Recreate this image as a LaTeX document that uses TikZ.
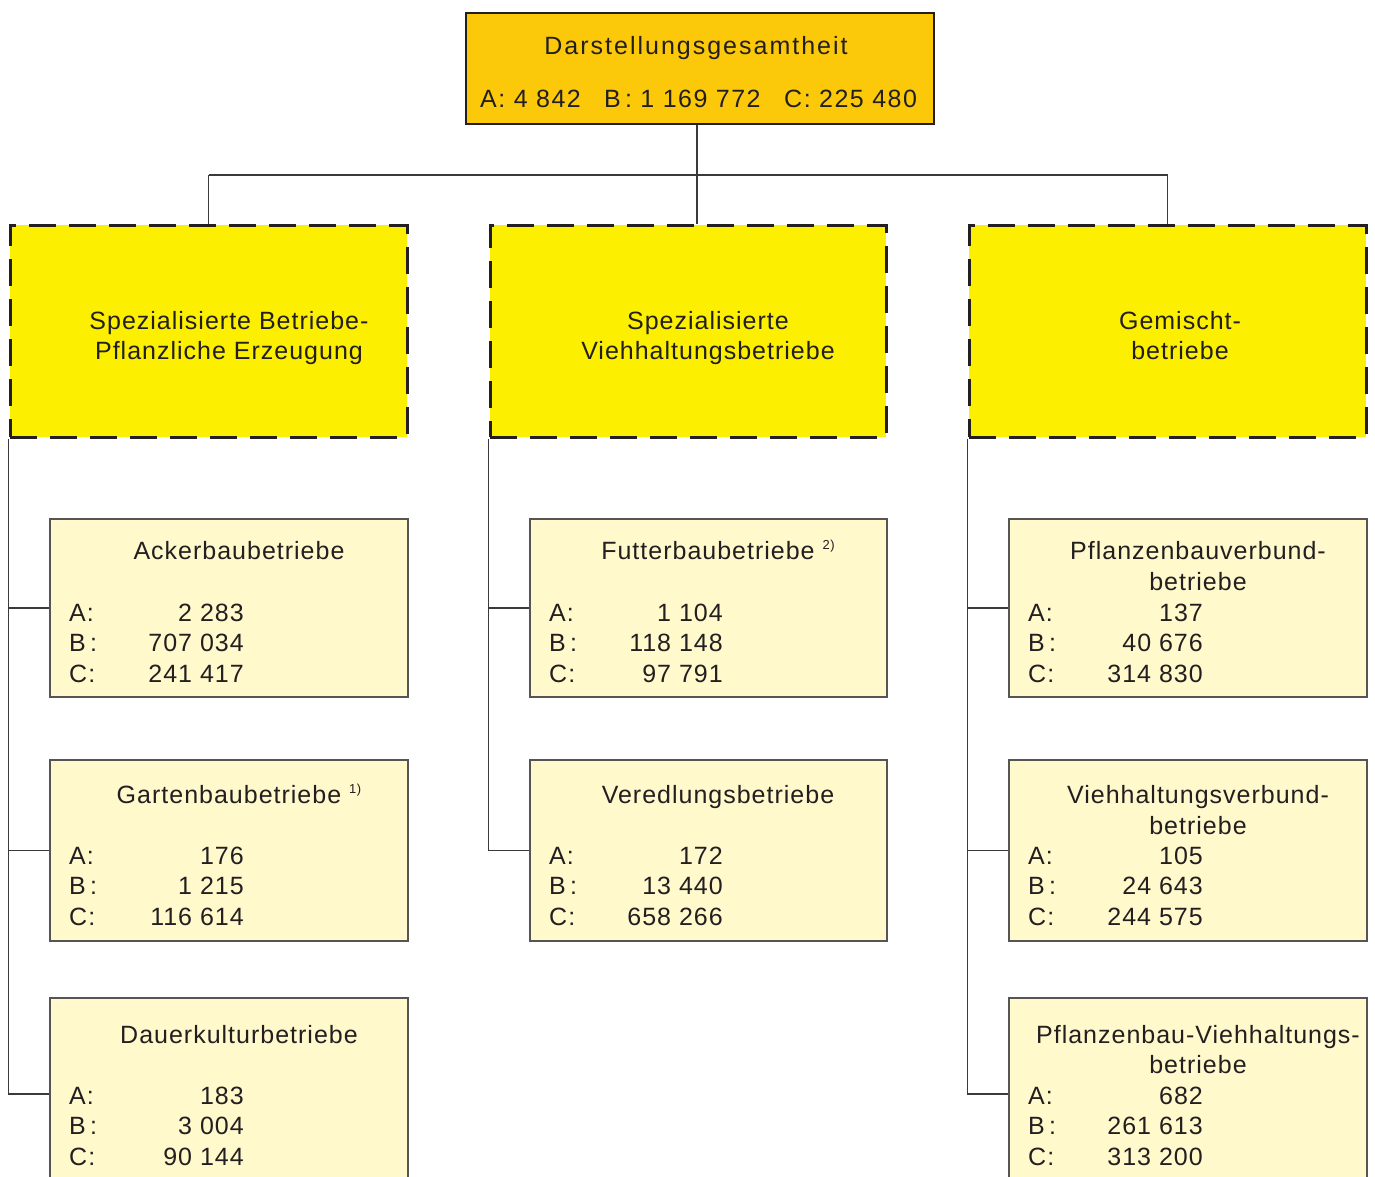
\documentclass[tikz,border=0pt]{standalone}
\usepackage{fontspec}
\setmainfont{Liberation Sans}[LetterSpace=4]
\definecolor{topfill}{HTML}{FCC80A}
\definecolor{midfill}{HTML}{FDEF00}
\definecolor{lowfill}{HTML}{FFF9CC}
\definecolor{ink}{HTML}{231F20}
\definecolor{wire}{HTML}{3A3A3A}
\definecolor{lowedge}{HTML}{555555}
\tikzset{
  topbox/.style={draw=ink, line width=2.5pt, fill=topfill, rectangle, inner sep=0pt},
  groupbox/.style={draw=ink, line width=3pt, fill=midfill, rectangle, inner sep=0pt,
     dash pattern=on 27pt off 13pt, minimum width=397pt, minimum height=212pt},
  leafbox/.style={draw=lowedge, line width=1.4pt, fill=lowfill, rectangle, inner sep=0pt, minimum width=358pt},
  txt/.style={inner sep=0pt, anchor=base, text=ink},
  lab/.style={inner sep=0pt, anchor=base west, text=ink},
  num/.style={inner sep=0pt, anchor=base east, text=ink},
  conn/.style={draw=wire, line width=1.3pt},
}
\newcommand{\statrows}[7]{%
  \node[lab] (#1a) at (#2,#4) {A:};
  \node[num] (#1an) at (#3,#4) {#5};
  \node[lab] (#1b) at (#2,#4+30.5) {B\,:};
  \node[num] (#1bn) at (#3,#4+30.5) {#6};
  \node[lab] (#1c) at (#2,#4+61) {C:};
  \node[num] (#1cn) at (#3,#4+61) {#7};
}
\newcommand{\supmark}[1]{\raisebox{10pt}{\fontsize{13}{13}\selectfont #1}}
\begin{document}
\begin{tikzpicture}[x=1pt,y=-1pt,font=\fontsize{25}{30}\selectfont]
\useasboundingbox (0,0) rectangle (1375,1176);
\clip (0,0) rectangle (1375,1176);

% top box
\node[topbox, minimum width=468pt, minimum height=111pt] (top) at (700,68.5) {};
\node[txt] (toptitle) at (696,54) {\addfontfeature{LetterSpace=8}Darstellungsgesamtheit};
\node[lab] (topA) at (480,107) {\addfontfeature{LetterSpace=6}A: 4 842};
\node[lab] (topB) at (604,107) {\addfontfeature{LetterSpace=6}B\,: 1 169 772};
\node[lab] (topC) at (784,107) {\addfontfeature{LetterSpace=6}C: 225 480};

% group boxes
\node[groupbox] (g1) at (208.5,331) {};
\node[groupbox, minimum width=396pt] (g2) at (688,331) {};
\node[groupbox] (g3) at (1167.5,331) {};
\node[txt] (g1t1) at (229,329) {Spezialisierte Betriebe-};
\node[txt] (g1t2) at (229,359) {Pflanzliche Erzeugung};
\node[txt] (g2t1) at (708,329) {Spezialisierte};
\node[txt] (g2t2) at (708,359) {Viehhaltungsbetriebe};
\node[txt] (g3t1) at (1180,329) {Gemischt-};
\node[txt] (g3t2) at (1180,359) {betriebe};

% leaf boxes
\node[leafbox, minimum height=178pt] (b11) at (229,608) {};
\node[leafbox, minimum height=181pt] (b12) at (229,850.5) {};
\node[leafbox, minimum height=192pt] (b13) at (229,1094) {};
\node[leafbox, minimum width=357pt, minimum height=178pt] (b21) at (708.5,608) {};
\node[leafbox, minimum width=357pt, minimum height=181pt] (b22) at (708.5,850.5) {};
\node[leafbox, minimum height=178pt] (b31) at (1188,608) {};
\node[leafbox, minimum height=181pt] (b32) at (1188,850.5) {};
\node[leafbox, minimum height=192pt] (b33) at (1188,1094) {};

% connectors
\coordinate (j) at (697,175);
\draw[conn] (top.south -| j) -- (j);
\draw[conn] (j -| g1.north) -- (j -| g3.north);
\draw[conn] (j -| g1.north) -- (g1.north);
\draw[conn] (j) -- (j |- g2.north);
\draw[conn] (j -| g3.north) -- (g3.north);
\draw[conn] (g1.south west) |- (b13.west);
\draw[conn] (g1.south west |- b11.west) -- (b11.west);
\draw[conn] (g1.south west |- b12.west) -- (b12.west);
\draw[conn] (g2.south west) |- (b22.west);
\draw[conn] (g2.south west |- b21.west) -- (b21.west);
\draw[conn] (g3.south west) |- (b33.west);
\draw[conn] (g3.south west |- b31.west) -- (b31.west);
\draw[conn] (g3.south west |- b32.west) -- (b32.west);

% leaf texts: left column
\node[txt] (b11t) at (239,559) {Ackerbaubetriebe};
\statrows{b11s}{69}{244}{621}{2 283}{707 034}{241 417}
\node[txt] (b12t) at (239,803) {Gartenbaubetriebe \supmark{1)}};
\statrows{b12s}{69}{244}{864}{176}{1 215}{116 614}
\node[txt] (b13t) at (239,1043) {Dauerkulturbetriebe};
\statrows{b13s}{69}{244}{1104}{183}{3 004}{90 144}

% middle column
\node[txt] (b21t) at (718,559) {Futterbaubetriebe \supmark{2)}};
\statrows{b21s}{549}{723}{621}{1 104}{118 148}{97 791}
\node[txt] (b22t) at (718,803) {Veredlungsbetriebe};
\statrows{b22s}{549}{723}{864}{172}{13 440}{658 266}

% right column
\node[txt] (b31t1) at (1198,559) {Pflanzenbauverbund-};
\node[txt] (b31t2) at (1198,590) {betriebe};
\statrows{b31s}{1028}{1203}{621}{137}{40 676}{314 830}
\node[txt] (b32t1) at (1198,803) {Viehhaltungsverbund-};
\node[txt] (b32t2) at (1198,834) {betriebe};
\statrows{b32s}{1028}{1203}{864}{105}{24 643}{244 575}
\node[txt] (b33t1) at (1198,1043) {Pflanzenbau-Viehhaltungs-};
\node[txt] (b33t2) at (1198,1073) {betriebe};
\statrows{b33s}{1028}{1203}{1104}{682}{261 613}{313 200}
\end{tikzpicture}
\end{document}
